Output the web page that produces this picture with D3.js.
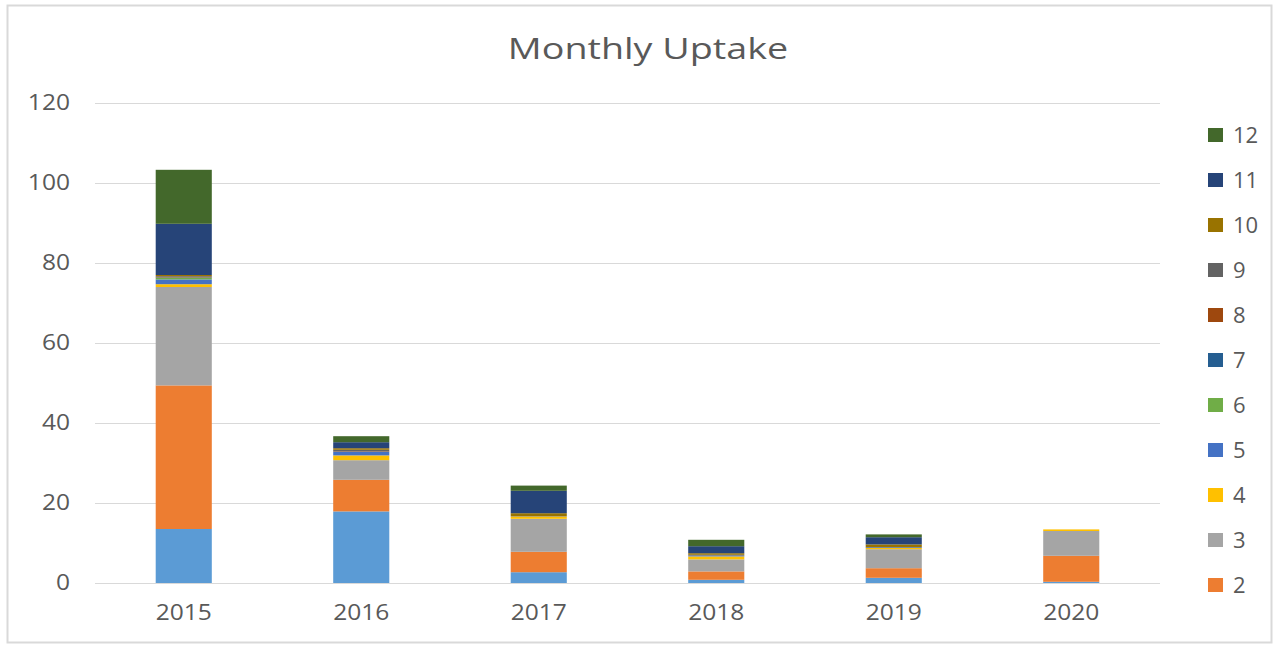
<!DOCTYPE html>
<html>
<head>
<meta charset="utf-8">
<script src="https://cdn.jsdelivr.net/npm/d3@7"></script>
<style>
  body { margin: 0; background: #fff; }
  text { font-family: "Open Sans", "Noto Sans", sans-serif; fill: #595959; }
</style>
</head>
<body>
<div id="chart"></div>
<script>
// Monthly Uptake - stacked columns per year, one segment per month

const years = ['2015', '2016', '2017', '2018', '2019', '2020'];
const months = ['1', '2', '3', '4', '5', '6', '7', '8', '9', '10', '11', '12'];

// values per month, one entry per year
const m1  = [13.5, 17.9, 2.7, 0.8, 1.3, 0.3];
const m2  = [35.9, 7.9, 5.1, 2.1, 2.4, 6.5];
const m3  = [24.6, 4.9, 8.25, 3.0, 4.75, 6.2];
const m4  = [0.7, 1.2, 0.6, 0.75, 0.3, 0.4];
const m5  = [1.2, 0.9, 0, 0.2, 0.2, 0];
const m6  = [0.4, 0, 0, 0, 0, 0];
const m7  = [0.1, 0.1, 0, 0, 0, 0];
const m8  = [0.1, 0.1, 0, 0, 0, 0];
const m9  = [0.2, 0.3, 0.1, 0.2, 0, 0];
const m10 = [0.3, 0.4, 0.7, 0.4, 0.7, 0];
const m11 = [12.8, 1.5, 5.6, 1.75, 1.8, 0];
const m12 = [13.5, 1.5, 1.3, 1.6, 0.7, 0];

const yTicks = [0, 20, 40, 60, 80, 100, 120];

const colors = ['#5B9BD5', '#ED7D31', '#A5A5A5', '#FFC000', '#4472C4', '#70AD47',
                '#255E91', '#9E480E', '#636363', '#997300', '#264478', '#43682B'];

const series = [m1, m2, m3, m4, m5, m6, m7, m8, m9, m10, m11, m12];
const table = years.map((y, i) => {
  const row = { year: y };
  months.forEach((m, j) => { row[m] = series[j][i]; });
  return row;
});

const width = 1278;
const height = 647;
const margin = { top: 103, right: 118, bottom: 64, left: 95 };

const svg = d3.select('#chart')
  .append('svg')
  .attr('width', width)
  .attr('height', height);

// chart border
svg.append('rect')
  .attr('x', 7.5).attr('y', 5.5)
  .attr('width', 1264).attr('height', 637)
  .attr('fill', '#fff')
  .attr('stroke', '#d9d9d9')
  .attr('stroke-width', 2);

const x = d3.scaleBand()
  .domain(years)
  .range([margin.left, width - margin.right])
  .paddingInner(0.684)
  .paddingOuter(0.342);

const y = d3.scaleLinear()
  .domain([0, 120])
  .range([height - margin.bottom, margin.top]);

// gridlines
svg.append('g')
  .selectAll('line')
  .data(yTicks)
  .enter().append('line')
  .attr('x1', margin.left)
  .attr('x2', width - margin.right)
  .attr('y1', d => Math.round(y(d)) + 0.5)
  .attr('y2', d => Math.round(y(d)) + 0.5)
  .attr('stroke', '#d9d9d9')
  .attr('stroke-width', 1);

// the original text is a bit wide, so stretch it sideways
const stretch = 'scale(1.17,1)';

// y axis labels
const yAxis = svg.append('g')
  .attr('transform', `translate(${margin.left - 25},0)`)
  .call(d3.axisLeft(y).tickValues(yTicks).tickSize(0).tickPadding(0));
yAxis.select('.domain').remove();
yAxis.selectAll('text')
  .attr('font-size', 21)
  .attr('transform', stretch)
  .style('font-family', '"Open Sans", sans-serif')
  .attr('fill', '#595959');

// x axis labels
const xAxis = svg.append('g')
  .attr('transform', `translate(0,${height - margin.bottom})`)
  .call(d3.axisBottom(x).tickSize(0).tickPadding(22));
xAxis.select('.domain').remove();
xAxis.selectAll('text')
  .attr('font-size', 21)
  .attr('transform', stretch)
  .style('font-family', '"Open Sans", sans-serif')
  .attr('fill', '#595959');

// stacked bars
const stack = d3.stack().keys(months);
const layers = stack(table);

svg.append('g')
  .selectAll('g')
  .data(layers)
  .enter().append('g')
  .attr('fill', (d, i) => colors[i])
  .selectAll('rect')
  .data(d => d)
  .enter().append('rect')
  .attr('x', d => x(d.data.year))
  .attr('width', x.bandwidth())
  .attr('y', d => y(d[1]))
  .attr('height', d => Math.max(0, y(d[0]) - y(d[1])));

// title
svg.append('g')
  .attr('transform', 'translate(648,59) scale(1.3,1)')
  .append('text')
  .attr('text-anchor', 'middle')
  .attr('font-size', 29)
  .text('Monthly Uptake');

// legend (month 1 does not fit, same as the original)
const legendKeys = months.slice(1).reverse();
const legend = svg.append('g')
  .selectAll('g')
  .data(legendKeys)
  .enter().append('g')
  .attr('transform', (d, i) => `translate(1208,${127 + i * 45})`);

legend.append('rect')
  .attr('y', 1)
  .attr('width', 15)
  .attr('height', 14)
  .attr('fill', d => colors[+d - 1]);

legend.append('text')
  .attr('x', 25)
  .attr('y', 16)
  .attr('font-size', 22)
  .text(d => d);
</script>
</body>
</html>
